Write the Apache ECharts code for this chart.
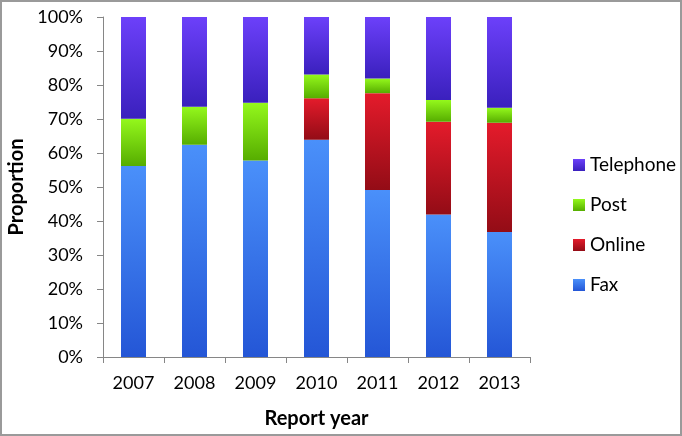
<!DOCTYPE html>
<html>
<head>
<meta charset="utf-8">
<script src="https://cdn.jsdelivr.net/npm/echarts@6/dist/echarts.min.js"></script>
<style>
  html, body { margin: 0; padding: 0; background: #fff; }
  #main { width: 682px; height: 436px; }
</style>
</head>
<body>
<div id="main"></div>
<script>
var years = ['2007', '2008', '2009', '2010', '2011', '2012', '2013'];
var fax = [56.2, 62.4, 57.8, 63.9, 49.1, 41.9, 36.8];
var online = [0, 0, 0, 12.2, 28.5, 27.3, 32.1];
var post = [13.9, 11.2, 17.0, 7.0, 4.3, 6.4, 4.4];
var telephone = [29.9, 26.4, 25.2, 16.9, 18.1, 24.4, 26.7];

var font = 'Lato, "Open Sans", sans-serif';

function grad(top, bottom) {
  return new echarts.graphic.LinearGradient(0, 0, 0, 1, [
    { offset: 0, color: top },
    { offset: 1, color: bottom },
  ]);
}

function barSeries(name, data, top, bottom) {
  return {
    name: name,
    type: 'bar',
    stack: 'total',
    barWidth: 25,
    data: data,
    itemStyle: { color: grad(top, bottom) },
    emphasis: { disabled: true },
  };
}

var chartDom = document.getElementById('main');
var myChart = echarts.init(chartDom);
var option;

option = {
  animation: false,
  grid: { left: 103, right: 152, top: 17, bottom: 79, containLabel: false, outerBoundsMode: 'none' },
  legend: {
    orient: 'vertical',
    left: 568,
    top: 150,
    itemWidth: 12,
    itemHeight: 12,
    itemGap: 20,
    icon: 'rect',
    data: ['Telephone', 'Post', 'Online', 'Fax'],
    textStyle: { fontFamily: font, fontSize: 19, lineHeight: 20, color: '#000' },
  },
  xAxis: {
    type: 'category',
    data: years,
    name: 'Report year',
    nameLocation: 'middle',
    nameGap: 52,
    nameTextStyle: { fontFamily: font, fontSize: 20, fontWeight: 'bold', color: '#000' },
    axisLine: { lineStyle: { color: '#868686' } },
    axisTick: { show: true, length: 6, lineStyle: { color: '#868686' } },
    axisLabel: { fontFamily: font, fontSize: 18, color: '#000', margin: 17 },
  },
  yAxis: {
    type: 'value',
    min: 0,
    max: 100,
    interval: 10,
    name: 'Proportion',
    nameLocation: 'middle',
    nameGap: 70,
    nameTextStyle: { fontFamily: font, fontSize: 20, fontWeight: 'bold', color: '#000' },
    splitLine: { show: false },
    axisLine: { show: true, lineStyle: { color: '#868686' } },
    axisTick: { show: true, length: 6, lineStyle: { color: '#868686' } },
    axisLabel: { fontFamily: font, fontSize: 18, color: '#000', margin: 20, formatter: '{value}%' },
  },
  graphic: [
    {
      type: 'rect',
      shape: { x: 1, y: 1, width: 680, height: 434 },
      style: { fill: 'none', stroke: '#9a9a9a', lineWidth: 2 },
      silent: true,
    },
  ],
  series: [
    barSeries('Fax', fax, '#4a90fa', '#2456d6'),
    barSeries('Online', online, '#e41b2b', '#930c16'),
    barSeries('Post', post, '#94f81c', '#56ad00'),
    barSeries('Telephone', telephone, '#6c40fa', '#3a20bd'),
  ],
};

option && myChart.setOption(option);
</script>
</body>
</html>
